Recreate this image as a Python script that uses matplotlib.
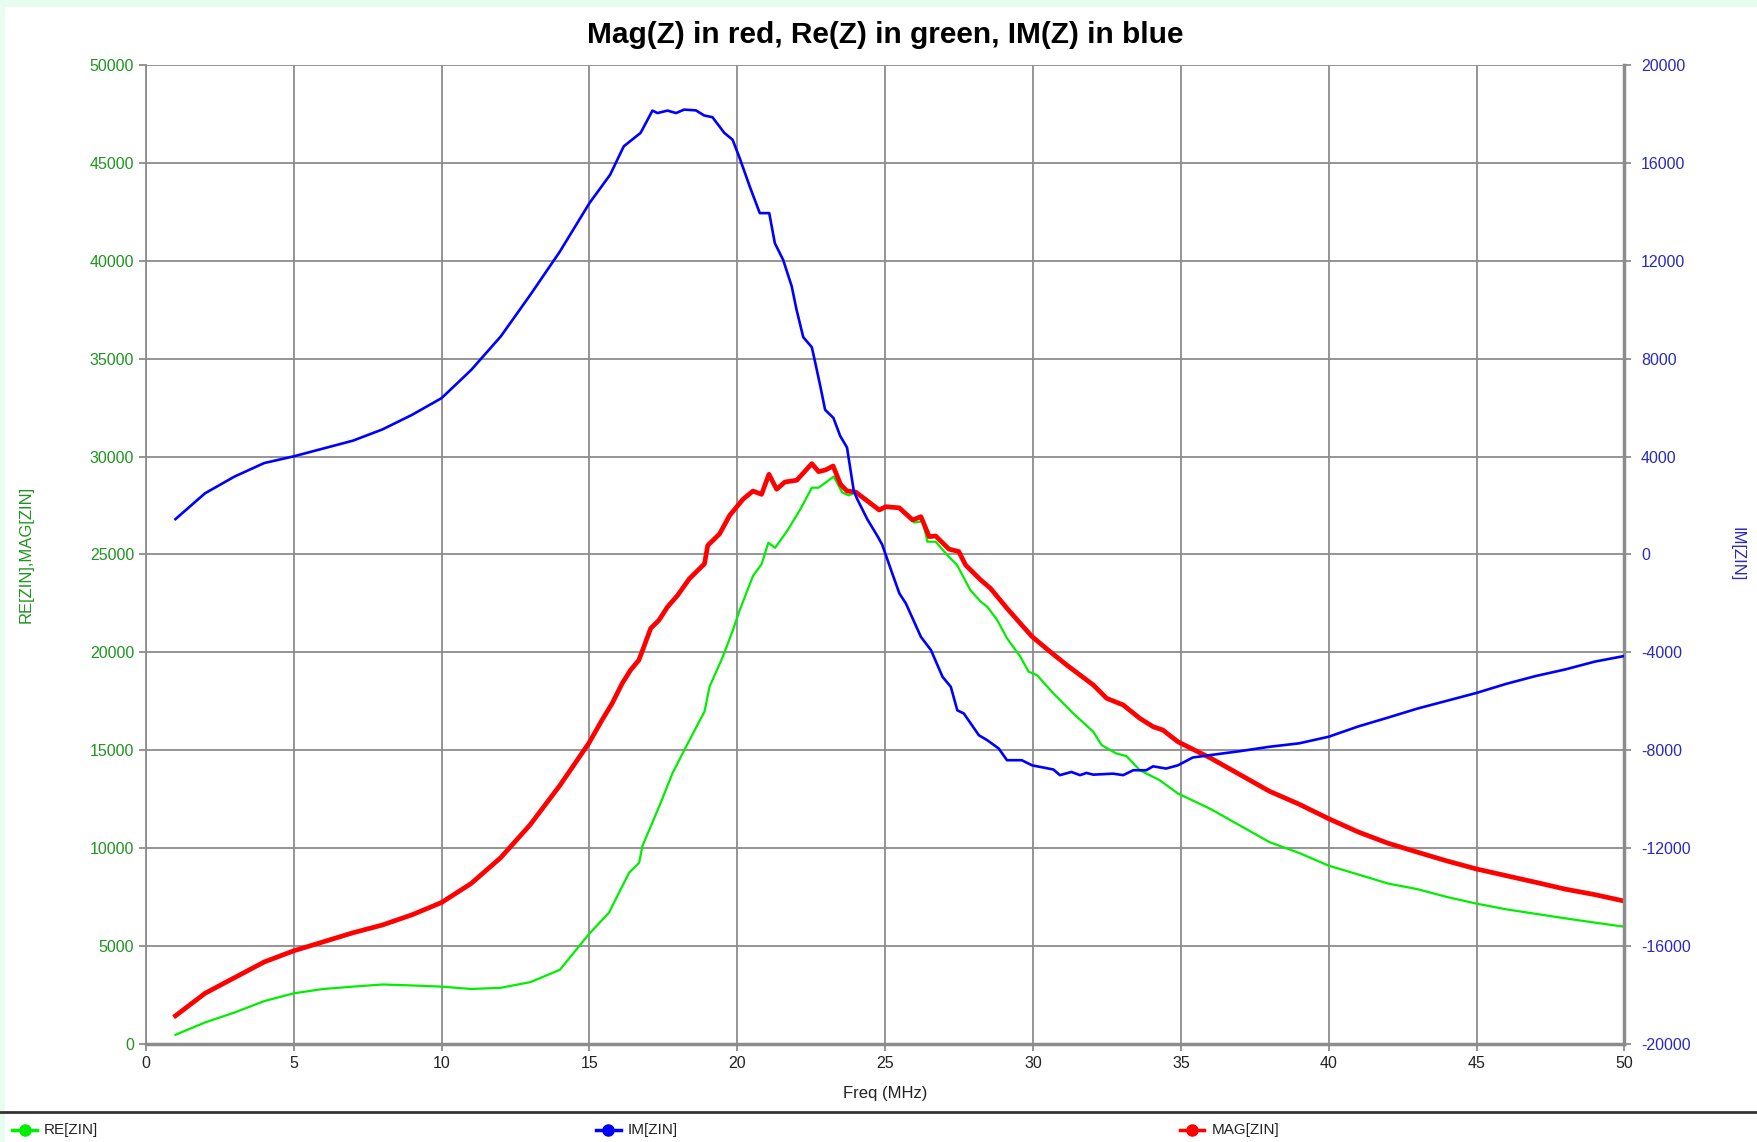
import matplotlib
matplotlib.use('Agg')
import matplotlib.pyplot as plt
from matplotlib.lines import Line2D
from matplotlib.patches import Rectangle

plt.rcParams['font.family'] = ['Liberation Sans', 'DejaVu Sans']
plt.rcParams['axes.unicode_minus'] = False

# RE[ZIN] (left axis)
freq_re = [1, 2, 3, 4, 5, 6, 7, 8, 9, 10, 11, 12, 13, 14, 14.98, 15.66, 16.34, 16.68,
           16.79, 17.36, 17.81, 18.27, 18.89, 19.06, 19.51, 19.85, 20.08, 20.53, 20.82,
           21.05, 21.28, 21.68, 22.13, 22.52, 22.75, 23.26, 23.55, 23.77, 24.0, 24.4,
           24.8, 25.02, 25.48, 25.99, 26.27, 26.43, 26.71, 27.1, 27.43, 27.88, 28.23,
           28.45, 28.79, 29.12, 29.57, 29.85, 30.13, 30.69, 31.36, 32.04, 32.32, 32.82,
           33.16, 33.61, 34.28, 34.9, 36, 37, 38, 39, 40, 41, 42, 43, 44, 45, 46, 47,
           48, 49, 50]
re_zin = [460, 1090, 1600, 2180, 2580, 2800, 2920, 3030, 2980, 2920, 2800, 2860, 3150,
          3780, 5600, 6700, 8740, 9250, 10100, 12130, 13830, 15190, 16970, 18240, 19770,
          21130, 22150, 23900, 24500, 25600, 25340, 26190, 27300, 28410, 28410, 28980,
          28160, 28020, 28160, 27815, 27270, 27440, 27310, 26630, 26700, 25650, 25650,
          24970, 24460, 23180, 22590, 22330, 21650, 20720, 19780, 19010, 18840, 17900,
          16880, 15940, 15260, 14830, 14700, 13980, 13470, 12790, 12000, 11150, 10300,
          9750, 9100, 8650, 8190, 7900, 7500, 7160, 6870, 6640, 6410, 6190, 5980]

# MAG[ZIN] (left axis)
freq_mag = [1, 2, 3, 4, 5, 6, 7, 8, 9, 10, 11, 12, 13, 14, 14.98, 15.43, 15.77, 16.11,
            16.39, 16.67, 16.84, 17.07, 17.35, 17.64, 17.98, 18.38, 18.72, 18.89, 19.0,
            19.4, 19.74, 20.19, 20.53, 20.82, 21.07, 21.33, 21.61, 22.01, 22.52, 22.75,
            22.98, 23.24, 23.49, 23.71, 24.0, 24.4, 24.8, 25.02, 25.48, 25.93, 26.21,
            26.49, 26.71, 27.16, 27.49, 27.72, 28.23, 28.56, 29.12, 29.57, 29.97, 30.58,
            31.14, 31.59, 32.04, 32.49, 33.05, 33.61, 34.06, 34.39, 34.9, 36, 37, 38, 39,
            40, 41, 42, 43, 44, 45, 46, 47, 48, 49, 50]
mag_zin = [1430, 2580, 3380, 4180, 4750, 5210, 5670, 6070, 6590, 7220, 8190, 9510, 11200,
           13200, 15360, 16550, 17400, 18420, 19090, 19600, 20280, 21220, 21640, 22320,
           22910, 23760, 24270, 24520, 25460, 26050, 26990, 27815, 28240, 28070, 29095,
           28330, 28700, 28790, 29640, 29230, 29315, 29520, 28580, 28240, 28190, 27730,
           27270, 27440, 27380, 26760, 26930, 25910, 25940, 25270, 25150, 24460, 23700,
           23270, 22250, 21480, 20800, 20030, 19350, 18840, 18330, 17650, 17310, 16630,
           16200, 16030, 15430, 14600, 13750, 12900, 12240, 11500, 10820, 10250, 9790,
           9340, 8930, 8590, 8250, 7900, 7620, 7290]

# IM[ZIN] (right axis)
freq_im = [1, 2, 3, 4, 5, 6, 7, 8, 9, 10, 11, 12, 13, 14, 15, 15.7, 16.16, 16.73, 17.13,
           17.3, 17.64, 17.93, 18.2, 18.6, 18.88, 19.16, 19.56, 19.84, 20.08, 20.42, 20.76,
           21.08, 21.27, 21.55, 21.84, 22.0, 22.23, 22.52, 22.63, 22.8, 22.97, 23.25, 23.48,
           23.71, 23.94, 24.06, 24.4, 24.74, 24.9, 25.2, 25.48, 25.7, 26.21, 26.55, 26.94,
           27.22, 27.44, 27.66, 28.17, 28.45, 28.84, 29.12, 29.62, 29.97, 30.69, 30.91,
           31.3, 31.59, 31.81, 32.04, 32.71, 33.05, 33.39, 33.83, 34.06, 34.5, 34.9, 35.4,
           36, 37, 38, 39, 40, 41, 42, 43, 44, 45, 46, 47, 48, 49, 50]
im_zin = [1444, 2500, 3185, 3735, 4010, 4330, 4650, 5110, 5705, 6390, 7540, 8910, 10610,
          12380, 14360, 15520, 16680, 17230, 18140, 18040, 18140, 18040, 18180, 18150,
          17940, 17870, 17230, 16950, 16200, 15040, 13950, 13950, 12720, 12040, 10960,
          10020, 8880, 8470, 7870, 6920, 5910, 5580, 4840, 4370, 2590, 2250, 1430, 750,
          400, -640, -1590, -2000, -3370, -3910, -5000, -5410, -6370, -6500, -7390, -7590,
          -7930, -8410, -8410, -8620, -8790, -9020, -8890, -9020, -8930, -9000, -8960,
          -9020, -8820, -8820, -8660, -8750, -8620, -8300, -8200, -8040, -7860, -7720,
          -7450, -7030, -6670, -6300, -5980, -5660, -5290, -4970, -4700, -4380, -4150]

x_ticks = list(range(0, 51, 5))
left_ticks = list(range(0, 50001, 5000))
right_ticks = list(range(-20000, 20001, 4000))

grid_col = '#8c8c8c'
green_lbl = '#1f941f'
blue_lbl = '#2a2ab8'

fig = plt.figure(figsize=(17.58, 11.42), dpi=100, facecolor='#e6fdf0')
# white panel inside the mint border
fig.patches.append(Rectangle((5 / 1758, 0), 1, 1 - 7 / 1142, transform=fig.transFigure,
                             facecolor='white', edgecolor='none', zorder=-10))

ax = fig.add_axes([0.083, 0.086, 0.841, 0.857])
ax.set_facecolor('white')
ax2 = ax.twinx()

ax.plot(freq_re, re_zin, color='#00ee00', lw=1.6, zorder=3)
ax.plot(freq_mag, mag_zin, color='#ff0000', lw=3.4, zorder=3)
ax2.plot(freq_im, im_zin, color='#0000ff', lw=1.9, zorder=3)

ax.set_xlim(0, 50)
ax.set_ylim(0, 50000)
ax2.set_ylim(-20000, 20000)
ax.set_xticks(x_ticks)
ax.set_yticks(left_ticks)
ax2.set_yticks(right_ticks)

ax.grid(True, color=grid_col, lw=1.3)
ax.set_axisbelow(True)

ax.spines['top'].set_visible(False)
ax2.spines['top'].set_visible(False)
ax.spines['right'].set_visible(False)
ax.spines['left'].set_color(grid_col)
ax.spines['left'].set_linewidth(1.3)
ax.spines['bottom'].set_color(grid_col)
ax.spines['bottom'].set_linewidth(2.5)
ax2.spines['right'].set_color(grid_col)
ax2.spines['right'].set_linewidth(2.5)
ax2.spines['left'].set_visible(False)
ax2.spines['bottom'].set_visible(False)

ax.tick_params(axis='y', colors=grid_col, labelcolor=green_lbl, labelsize=11.5, length=5, width=1.3)
ax.tick_params(axis='x', colors=grid_col, labelcolor='#222222', labelsize=11.5, length=5, width=1.3)
ax2.tick_params(axis='y', colors=grid_col, labelcolor=blue_lbl, labelsize=11.5, length=5,
                width=1.3, pad=7)

ax.set_xlabel('Freq (MHz)', fontsize=12, color='#222222', labelpad=11)
ax.set_ylabel('RE[ZIN],MAG[ZIN]', fontsize=12, color=green_lbl)
ax2.set_ylabel('IM[ZIN]', fontsize=12, color=blue_lbl, rotation=-90)
ax.yaxis.set_label_coords(-0.076, 0.5)
ax2.yaxis.set_label_coords(1.081, 0.5)

ax.set_title('Mag(Z) in red, Re(Z) in green, IM(Z) in blue', fontsize=21.5,
             fontweight='bold', pad=16)

# legend strip at the bottom
fig.add_artist(Line2D([0, 1], [0.0265, 0.0265], transform=fig.transFigure,
                      color='#333333', lw=2))
legend_items = [('RE[ZIN]', '#00ee00', 0.014), ('IM[ZIN]', '#0000ff', 0.346),
                ('MAG[ZIN]', '#ff0000', 0.678)]
for name, col, xpos in legend_items:
    fig.add_artist(Line2D([xpos - 0.007, xpos + 0.007], [0.0105, 0.0105],
                          transform=fig.transFigure, color=col, lw=2.5))
    fig.add_artist(Line2D([xpos], [0.0105], transform=fig.transFigure, color=col,
                          marker='o', markersize=8, lw=0))
    fig.text(xpos + 0.011, 0.0105, name, fontsize=11, va='center', ha='left',
             color='#222222')

fig.savefig('out.png', dpi=100, facecolor=fig.get_facecolor())
